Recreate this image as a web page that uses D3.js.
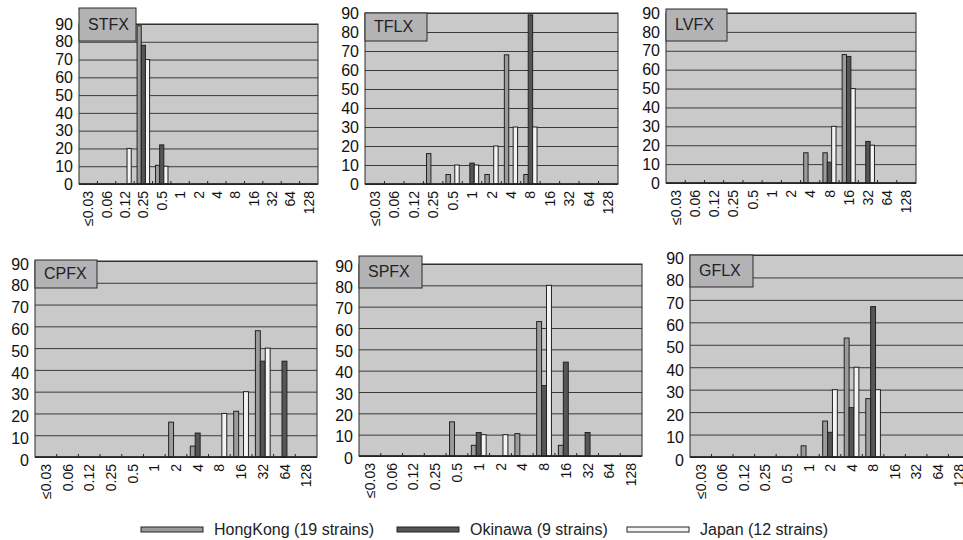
<!DOCTYPE html>
<html>
<head>
<meta charset="utf-8">
<script src="https://cdn.jsdelivr.net/npm/d3@7"></script>
<style>
  body { margin: 0; background: #fff; overflow: hidden; }
  svg { font-family: "Liberation Sans", Arial, sans-serif; display: block; }
  .axis path, .axis line { stroke: none; }
  .gridlines line { stroke: #3a3a3a; stroke-width: 1; }
  .gridlines path { stroke: none; }
</style>
</head>
<body>
<svg id="chart" width="963" height="540"></svg>
<script>
// ----- data -----
const mics = ["≤0.03", "0.06", "0.12", "0.25", "0.5", "1", "2", "4", "8", "16", "32", "64", "128"];
const drugs = ["STFX", "TFLX", "LVFX", "CPFX", "SPFX", "GFLX"];
const regions = ["HongKong (19 strains)", "Okinawa (9 strains)", "Japan (12 strains)"];
const yTicks = [0, 10, 20, 30, 40, 50, 60, 70, 80, 90];

// percent of strains per MIC, one row per region
const stfx = [
  [0, 0, 0, 89, 10.5, 0, 0, 0, 0, 0, 0, 0, 0],
  [0, 0, 0, 78, 22, 0, 0, 0, 0, 0, 0, 0, 0],
  [0, 0, 20, 70, 10, 0, 0, 0, 0, 0, 0, 0, 0]
];
const tflx = [
  [0, 0, 0, 16, 5, 0, 5, 68, 5, 0, 0, 0, 0],
  [0, 0, 0, 0, 0, 11, 0, 0, 89, 0, 0, 0, 0],
  [0, 0, 0, 0, 10, 10, 20, 30, 30, 0, 0, 0, 0]
];
const lvfx = [
  [0, 0, 0, 0, 0, 0, 0, 16, 16, 68, 0, 0, 0],
  [0, 0, 0, 0, 0, 0, 0, 0, 11, 67, 22, 0, 0],
  [0, 0, 0, 0, 0, 0, 0, 0, 30, 50, 20, 0, 0]
];
const cpfx = [
  [0, 0, 0, 0, 0, 0, 16, 5, 0, 21, 58, 0, 0],
  [0, 0, 0, 0, 0, 0, 0, 11, 0, 0, 44, 44, 0],
  [0, 0, 0, 0, 0, 0, 0, 0, 20, 30, 50, 0, 0]
];
const spfx = [
  [0, 0, 0, 0, 16, 5, 0, 10.5, 63, 5, 0, 0, 0],
  [0, 0, 0, 0, 0, 11, 0, 0, 33, 44, 11, 0, 0],
  [0, 0, 0, 0, 0, 10, 10, 0, 80, 0, 0, 0, 0]
];
const gflx = [
  [0, 0, 0, 0, 0, 5, 16, 53, 26, 0, 0, 0, 0],
  [0, 0, 0, 0, 0, 0, 11, 22, 67, 0, 0, 0, 0],
  [0, 0, 0, 0, 0, 0, 30, 40, 30, 0, 0, 0, 0]
];
const drugValues = [stfx, tflx, lvfx, cpfx, spfx, gflx];

// ----- layout (plot rect + title box per panel) -----
const layout = [
  {x0: 79,  x1: 318, y0: 24,  y1: 184, box: [79, 8, 57, 33],   labelDy: 0},
  {x0: 365, x1: 618, y0: 13,  y1: 184, box: [365, 13, 62, 28], labelDy: 0},
  {x0: 666, x1: 916, y0: 13,  y1: 183, box: [666, 9, 61, 32],  labelDy: 0},
  {x0: 35,  x1: 317, y0: 261, y1: 457, box: [35, 260, 62, 28], labelDy: 3},
  {x0: 359, x1: 642, y0: 264, y1: 456, box: [359, 256, 63, 32], labelDy: 2},
  {x0: 690, x1: 970, y0: 255, y1: 457, box: [690, 255, 63, 32], labelDy: 3}
];
const colors = ["#9b9b9b", "#555555", "#f4f4f4"];

const svg = d3.select("#chart");

drugs.forEach((drug, i) => {
    const L = layout[i];
    const w = L.x1 - L.x0;
    const h = L.y1 - L.y0;
    const g = svg.append("g").attr("transform", `translate(${L.x0}, ${L.y0})`);

    const xScale = d3.scaleBand().domain(mics).range([0, w]);
    const step = xScale.step();
    const sub = d3.scaleBand().domain(d3.range(3)).range([step * 0.16, step * 0.84]);
    const yScale = d3.scaleLinear().domain([0, 90]).range([h, 0]);

    // background
    g.append("rect").attr("width", w).attr("height", h).attr("fill", "#c9c9c9");

    // gridlines
    g.append("g").attr("class", "gridlines")
     .call(d3.axisLeft(yScale).tickValues(yTicks).tickSize(-w).tickFormat(""));

    // bars
    drugValues[i].forEach((vals, s) => {
        g.append("g").selectAll("rect")
         .data(vals.map((v, k) => ({mic: mics[k], v: v})).filter(d => d.v > 0))
         .join("rect")
         .attr("x", d => xScale(d.mic) + sub(s))
         .attr("width", sub.bandwidth())
         .attr("y", d => yScale(d.v))
         .attr("height", d => h - yScale(d.v))
         .attr("fill", colors[s])
         .attr("stroke", "#222")
         .attr("stroke-width", 1);
    });

    // frame
    g.append("rect").attr("width", w).attr("height", h)
     .attr("fill", "none").attr("stroke", "#2a2a2a").attr("stroke-width", 1);
    g.append("line").attr("x1", 0).attr("x2", w).attr("y1", h).attr("y2", h)
     .attr("stroke", "#222").attr("stroke-width", 1.6);

    // small ticks at category boundaries
    g.append("g").selectAll("line")
     .data(mics.slice(1))
     .join("line")
     .attr("x1", d => xScale(d)).attr("x2", d => xScale(d))
     .attr("y1", h).attr("y2", h - 3)
     .attr("stroke", "#222");

    // y axis labels
    const yAxisG = g.append("g").attr("class", "axis")
     .attr("transform", `translate(0, ${L.labelDy})`)
     .call(d3.axisLeft(yScale).tickValues(yTicks).tickSize(0).tickPadding(6));
    yAxisG.selectAll("text").attr("font-size", 16).attr("fill", "#111")
          .style("font-family", "Liberation Sans, Arial, sans-serif");

    // x axis labels (rotated)
    const xAxisG = g.append("g").attr("class", "axis")
     .attr("transform", `translate(0, ${h})`)
     .call(d3.axisBottom(xScale).tickSize(0));
    xAxisG.selectAll("text")
     .attr("transform", "rotate(-90)")
     .attr("x", -7).attr("y", 0).attr("dy", "0.36em")
     .style("text-anchor", "end")
     .style("font-family", "Liberation Sans, Arial, sans-serif")
     .attr("font-size", 14).attr("fill", "#111");

    // title box
    const b = L.box;
    svg.append("rect").attr("x", b[0]).attr("y", b[1]).attr("width", b[2]).attr("height", b[3])
       .attr("fill", "#b3b3b6").attr("stroke", "#2a2a2a").attr("stroke-width", 1);
    svg.append("text").attr("x", b[0] + 9).attr("y", b[1] + b[3] / 2 + 1)
       .attr("dominant-baseline", "middle")
       .attr("font-size", 16).attr("fill", "#222").text(drug);
});

// legend
const legendX = [141, 397, 627];
const legend = svg.append("g").selectAll("g")
    .data(regions)
    .join("g")
    .attr("transform", (d, i) => `translate(${legendX[i]}, 529)`);
legend.append("rect")
    .attr("x", 0).attr("y", -2).attr("width", 62).attr("height", 5)
    .attr("fill", (d, i) => colors[i]).attr("stroke", "#222").attr("stroke-width", 1);
legend.append("text")
    .attr("x", 73).attr("y", 0).attr("dy", "0.35em")
    .attr("font-size", 16).attr("fill", "#222")
    .text(d => d);
</script>
</body>
</html>
